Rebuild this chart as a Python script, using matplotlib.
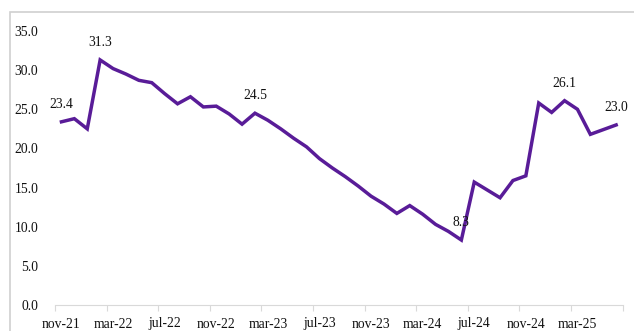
import matplotlib
matplotlib.use("Agg")
from matplotlib import pyplot as plt
from matplotlib.patches import Rectangle

months = ["nov-21", "dec-21", "jan-22", "feb-22", "mar-22", "apr-22", "may-22", "jun-22",
          "jul-22", "aug-22", "sep-22", "oct-22", "nov-22", "dec-22", "jan-23", "feb-23",
          "mar-23", "apr-23", "may-23", "jun-23", "jul-23", "aug-23", "sep-23", "oct-23",
          "nov-23", "dec-23", "jan-24", "feb-24", "mar-24", "apr-24", "may-24", "jun-24",
          "jul-24", "aug-24", "sep-24", "oct-24", "nov-24", "dec-24", "jan-25", "feb-25",
          "mar-25", "apr-25", "may-25", "jun-25"]
values = [23.4, 23.8, 22.5, 31.3, 30.2, 29.5, 28.7, 28.4, 27.0, 25.7, 26.6, 25.3,
          25.4, 24.4, 23.1, 24.5, 23.6, 22.5, 21.3, 20.2, 18.7, 17.5, 16.4, 15.2,
          13.9, 12.9, 11.7, 12.7, 11.6, 10.3, 9.4, 8.3, 15.7, 14.7, 13.7, 15.9,
          16.5, 25.8, 24.6, 26.1, 25.0, 21.8, 22.4, 23.0]
labeled = [0, 3, 15, 31, 39, 43]

serif = ["Liberation Serif", "DejaVu Serif"]
plt.rcParams["font.family"] = serif
plt.rcParams["text.color"] = "#111111"
plt.rcParams["xtick.labelcolor"] = "#111111"
plt.rcParams["ytick.labelcolor"] = "#111111"

fig = plt.figure(figsize=(6.34, 3.31), dpi=100)
fig.patches.append(Rectangle((10 / 634, -0.1), 1.2, (331 - 12) / 331 + 0.1,
                             transform=fig.transFigure, fill=False,
                             edgecolor="#d0d0d0", linewidth=1.2))

ax = fig.add_axes([55 / 634, 26 / 331, (622.6 - 55) / 634, (305 - 31) / 331])
x = list(range(len(values)))
ax.plot(x, values, color="#591c98", linewidth=2.5, solid_joinstyle="miter")

for i in labeled:
    ax.annotate(f"{values[i]:.1f}", (i, values[i]), xytext=(0, 8),
                textcoords="offset points", ha="center", va="bottom",
                fontsize=9.8)

ax.set_xlim(-0.5, len(values) - 0.5)
ax.set_ylim(0, 35)
ax.set_yticks([0, 5, 10, 15, 20, 25, 30, 35])
ax.set_yticklabels([f"{v:.1f}" for v in ax.get_yticks()], fontsize=9.8)
ax.set_xticks(x[::4])
ax.set_xticklabels(months[::4], fontsize=9.8)
ax.set_xticks([i - 0.5 for i in range(0, len(values) + 1, 4)], minor=True)
ax.tick_params(axis="x", which="major", length=0, pad=9)
ax.tick_params(axis="x", which="minor", length=4, color="#d9d9d9", width=0.8)
ax.tick_params(axis="y", length=0, pad=12)

for side in ["top", "right", "left"]:
    ax.spines[side].set_visible(False)
ax.spines["bottom"].set_color("#d9d9d9")
ax.spines["bottom"].set_linewidth(0.8)

fig.savefig("out.png", dpi=100)
